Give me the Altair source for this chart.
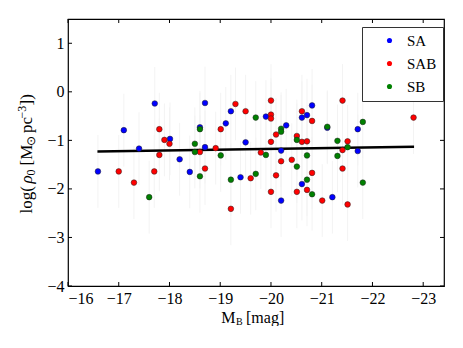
import altair as alt
import pandas as pd

# ---- data ----
sa_x = [-16.59, -17.10, -17.71, -17.40, -18.01, -18.20, -18.40, -18.70, -18.60, -18.70,
        -19.11, -19.21, -19.50, -19.40, -19.90, -20.30, -20.20, -20.20, -20.71, -20.61,
        -20.81, -20.61, -21.11, -21.71, -21.71, -21.21]
sa_y = [-1.64, -0.79, -0.24, -1.17, -0.97, -1.39, -1.65, -0.23, -0.73, -1.14,
        -0.65, -0.40, -1.04, -1.76, -0.51, -0.69, -1.21, -2.24, -0.48, -0.53,
        -0.28, -1.90, -0.74, -0.77, -1.22, -2.17]

sab_x = [-17.00, -17.30, -17.80, -17.90, -18.00, -17.80, -17.70, -18.60, -18.70, -18.91,
         -19.01, -19.30, -19.50, -19.60, -19.21, -20.00, -20.00, -20.00, -19.80, -20.00,
         -20.10, -20.20, -20.10, -20.00, -20.41, -20.51, -20.61, -20.71, -20.61, -20.81,
         -20.81, -20.71, -20.51, -21.01, -21.41, -21.51, -21.41, -21.41, -21.51, -22.81]
sab_y = [-1.64, -1.87, -0.77, -0.99, -1.07, -1.30, -1.64, -1.24, -1.58, -1.16,
         -0.77, -0.25, -0.40, -1.78, -2.41, -0.18, -0.47, -0.55, -1.25, -1.03,
         -0.88, -1.43, -1.72, -2.06, -1.40, -0.91, -1.03, -1.02, -0.40, -0.60,
         -1.67, -2.02, -2.06, -2.24, -0.18, -1.02, -1.20, -1.58, -2.32, -0.53]

sb_x = [-17.60, -18.50, -18.50, -18.60, -18.60, -19.01, -19.21, -19.70, -19.70, -19.90,
        -20.20, -20.20, -20.51, -20.51, -20.71, -20.71, -20.81, -21.11, -21.81, -21.31,
        -21.51, -21.31, -21.81]
sb_y = [-2.17, -1.07, -1.24, -0.77, -1.74, -1.31, -1.81, -1.69, -0.53, -1.30,
        -0.76, -0.82, -1.54, -0.99, -1.31, -1.81, -2.11, -0.72, -0.62, -1.01,
        -1.14, -1.32, -1.87]

err = 0.75  # faint symmetric error bars

fit_x = [-16.58, -22.82]
fit_y = [-1.23, -1.13]

classes = ["SA", "SAB", "SB"]
class_colors = ["#0000ff", "#ff0000", "#008000"]
x_ticks = [-16, -17, -18, -19, -20, -21, -22, -23]
y_ticks = [-4, -3, -2, -1, 0, 1]

W, H = 376, 267
FONT = "Liberation Serif"

rows = []
for name, xs, ys in [("SA", sa_x, sa_y), ("SAB", sab_x, sab_y), ("SB", sb_x, sb_y)]:
    for x, y in zip(xs, ys):
        rows.append({"mb": x, "rho": y, "lo": y - err, "hi": y + err, "cls": name})
df = pd.DataFrame(rows)
fit = pd.DataFrame({"mb": fit_x, "rho": fit_y})
xt = pd.DataFrame({"v": x_ticks})
yt = pd.DataFrame({"v": y_ticks})

xscale = alt.Scale(domain=[-23.41, -16], reverse=True, nice=False, zero=False)
yscale = alt.Scale(domain=[-4, 1.5], nice=False, zero=False)

xaxis = alt.Axis(values=x_ticks, ticks=False, domain=False, grid=False, title=None,
                 labelFont=FONT, labelFontSize=16, labelColor="black", labelPadding=4,
                 format="d")
yaxis = alt.Axis(values=y_ticks, ticks=False, domain=False, grid=False, title=None,
                 labelFont=FONT, labelFontSize=16, labelColor="black", labelPadding=4,
                 format="d")

base = alt.Chart(df)

errbars = base.mark_rule(color="#f3f3f3", strokeWidth=1).encode(
    x=alt.X("mb:Q", scale=xscale, axis=xaxis),
    y=alt.Y("lo:Q", scale=yscale, axis=yaxis),
    y2="hi:Q",
)

points = base.mark_point(filled=True, size=32, opacity=1, stroke="#222222",
                         strokeWidth=0.5, shape="circle").encode(
    x=alt.X("mb:Q", scale=xscale, axis=xaxis),
    y=alt.Y("rho:Q", scale=yscale, axis=yaxis),
    fill=alt.Fill("cls:N", scale=alt.Scale(domain=classes, range=class_colors),
                  legend=alt.Legend(title=None, orient="none", legendX=294, legendY=8,
                                    fillColor="white", strokeColor="#333333",
                                    padding=6, symbolOffset=14, symbolSize=26,
                                    symbolType="circle", symbolStrokeWidth=0,
                                    labelFont=FONT, labelFontSize=15, labelColor="black",
                                    labelOffset=10, rowPadding=7)),
    order=alt.Order("ord:Q"),
).transform_calculate(ord="datum.cls == 'SA' ? 0 : datum.cls == 'SAB' ? 1 : 2")

line = alt.Chart(fit).mark_line(color="black", strokeWidth=2.5).encode(
    x=alt.X("mb:Q", scale=xscale, axis=xaxis),
    y=alt.Y("rho:Q", scale=yscale, axis=yaxis),
)

tick_len = 4
xt_bot = alt.Chart(xt).mark_rule(color="black").encode(
    x=alt.X("v:Q", scale=xscale, axis=xaxis), y=alt.value(H), y2=alt.value(H - tick_len))
xt_top = alt.Chart(xt).mark_rule(color="black").encode(
    x=alt.X("v:Q", scale=xscale, axis=xaxis), y=alt.value(0), y2=alt.value(tick_len))
yt_left = alt.Chart(yt).mark_rule(color="black").encode(
    y=alt.Y("v:Q", scale=yscale, axis=yaxis), x=alt.value(0), x2=alt.value(tick_len))
yt_right = alt.Chart(yt).mark_rule(color="black").encode(
    y=alt.Y("v:Q", scale=yscale, axis=yaxis), x=alt.value(W - tick_len), x2=alt.value(W))


def label(text, x, y, size, angle=0, italic=False, align="left"):
    kw = dict(font=FONT, fontSize=size, align=align, baseline="alphabetic",
              color="black", text=text)
    if angle:
        kw["angle"] = angle
    if italic:
        kw["fontStyle"] = "italic"
    return alt.Chart(pd.DataFrame({"a": [0]})).mark_text(**kw).encode(
        x=alt.value(x), y=alt.value(y))


# x-axis title: M_B [mag]
t_m = label("M", 167.5, 304, 16, align="right")
t_b = label("B", 168, 306, 10)
t_mag = label("[mag]", 178, 304, 16)

# y-axis title: log(rho_0 [M_sun pc^-3]) built from rotated pieces
YB = -36.5
ytitle = [
    label("log(", YB, 194.5, 17, 270),
    label("ρ", YB, 164.5, 17, 270, italic=True),
    label("0", YB + 3, 156.5, 12, 270),
    label("[M", YB, 146.5, 17, 270),
    label("⊙", YB + 3, 126.5, 12, 270),
    label("pc", YB, 114, 17, 270),
    label("−3", YB - 6, 99.5, 12, 270),
    label("])", YB, 86.5, 17, 270),
]

chart = alt.layer(errbars, line, points, xt_bot, xt_top, yt_left, yt_right,
                  t_m, t_b, t_mag, *ytitle).properties(
    width=W, height=H,
    background="white",
    autosize=alt.AutoSizeParams(type="none"),
    padding={"left": 60, "top": 11, "right": 10, "bottom": 40},
).configure(font=FONT).configure_view(stroke="black", strokeWidth=1.2).configure_axis(
    labelFont=FONT, labelFontSize=16, labelColor="black"
).configure_legend(labelFont=FONT, labelFontSize=15, labelColor="black")

chart.save("out.html", embed_options={"renderer": "svg", "actions": False})
